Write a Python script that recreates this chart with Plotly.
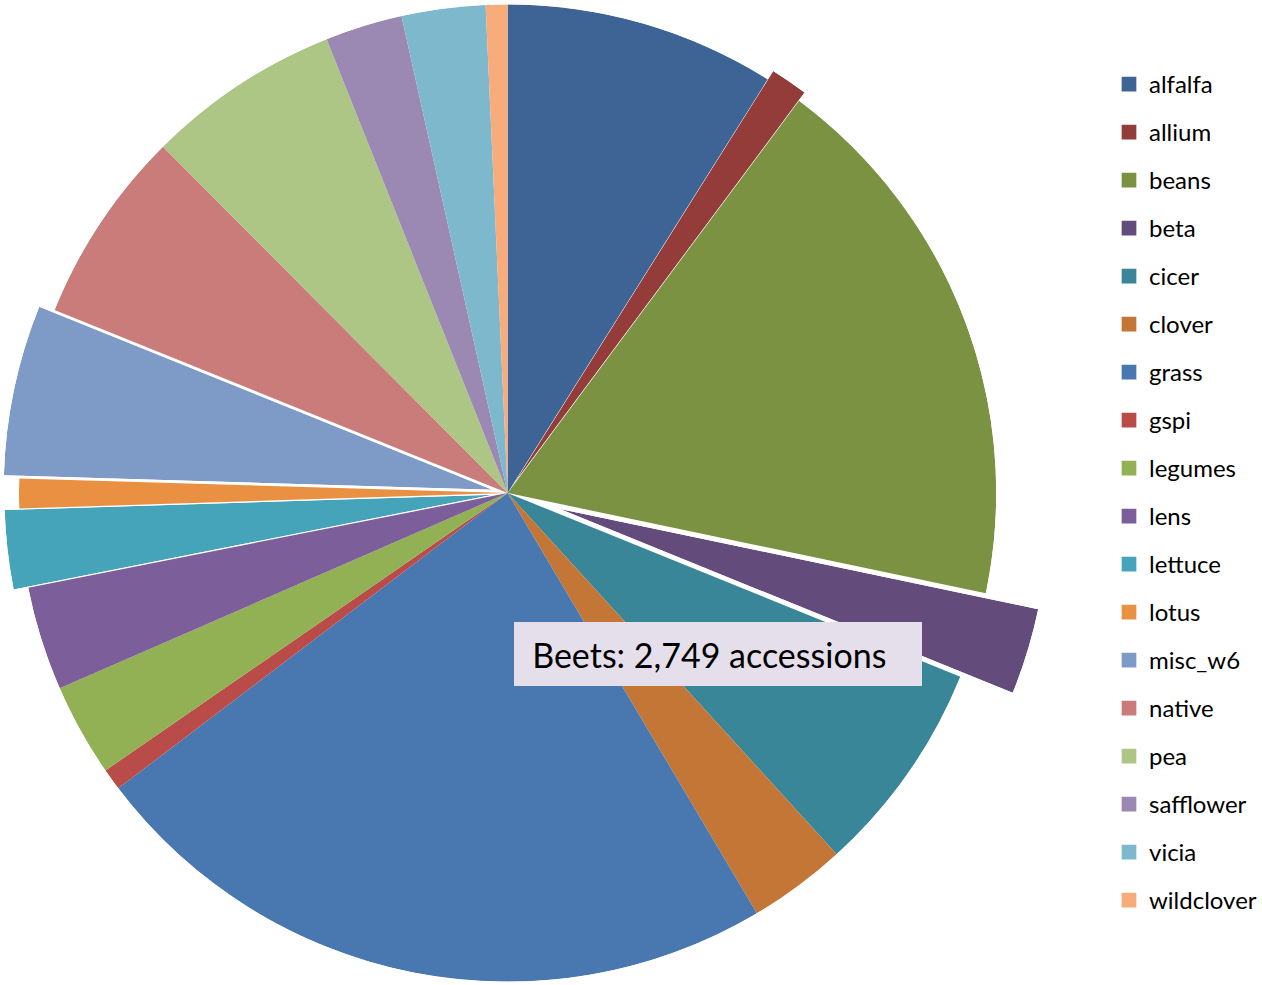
import math
import plotly.graph_objects as go

# ---------------- data ----------------
labels = ["alfalfa", "allium", "beans", "beta", "cicer", "clover", "grass", "gspi",
          "legumes", "lens", "lettuce", "lotus", "misc_w6", "native", "pea",
          "safflower", "vicia", "wildclover"]
values = [8608, 1194, 17455, 2749, 6844, 3121, 22350, 688,
          2958, 3314, 2508, 937, 5434, 6194, 6189,
          2463, 2666, 691]
colors = ["#3D6494", "#943C3A", "#7A9242", "#634C7C", "#388698", "#C47637",
          "#4978B0", "#B94B48", "#92B054", "#7B5E9A", "#46A4BA", "#EA9042",
          "#7E9BC7", "#C97C7A", "#ADC585", "#9B89B4", "#7DB8CD", "#F8AB7B"]
pulls = [0, 0.02, 0, 0.112, 0, 0, 0, 0,
         0, 0, 0.03, 0, 0.032, 0, 0,
         0, 0, 0]
tooltip_text = "Beets: 2,749 accessions&nbsp;&nbsp;"

# ---------------- layout constants ----------------
W, H = 1262, 985
CX, CY, R = 508, 493, 489


def sector_bbox(s0, s1):
    """Same bbox computation plotly uses for a polar sector (unit circle)."""
    arc = s1 - s0
    a0 = s0 % 360
    a1 = a0 + arc
    ax0, ay0 = math.cos(math.radians(a0)), math.sin(math.radians(a0))
    ax1, ay1 = math.cos(math.radians(a1)), math.sin(math.radians(a1))
    if (a0 <= 90 and a1 >= 90) or (a0 > 90 and a1 >= 450):
        y1 = 1
    elif ay0 <= 0 and ay1 <= 0:
        y1 = 0
    else:
        y1 = max(ay0, ay1)
    if (a0 <= 180 and a1 >= 180) or (a0 > 180 and a1 >= 540):
        x0 = -1
    elif ax0 >= 0 and ax1 >= 0:
        x0 = 0
    else:
        x0 = min(ax0, ax1)
    if (a0 <= 270 and a1 >= 270) or (a0 > 270 and a1 >= 630):
        y0 = -1
    elif ay0 >= 0 and ay1 >= 0:
        y0 = 0
    else:
        y0 = min(ay0, ay1)
    if a1 >= 360:
        x1 = 1
    elif ax0 <= 0 and ax1 <= 0:
        x1 = 0
    else:
        x1 = max(ax0, ax1)
    return x0, y0, x1, y1


def polar_layout(domain, sector=None):
    d = dict(
        domain=domain,
        bgcolor="rgba(0,0,0,0)",
        hole=0,
        angularaxis=dict(visible=False, rotation=90, direction="clockwise",
                         showgrid=False, showline=False, ticks=""),
        radialaxis=dict(visible=False, range=[0, 1], showgrid=False,
                        showline=False, ticks=""),
    )
    if sector is not None:
        d["sector"] = sector
    return d


total = float(sum(values))
fig = go.Figure()
layout_polars = {}
layout_polars["polar"] = polar_layout(
    dict(x=[(CX - R) / W, (CX + R) / W], y=[1 - (CY + R) / H, 1 - (CY - R) / H]))

start = 0.0
n_extra = 1
for lab, val, col, pl in zip(labels, values, colors, pulls):
    ang = val / total * 360.0
    mid = start + ang / 2.0
    subplot = "polar"
    if pl > 0:
        n_extra += 1
        subplot = "polar%d" % n_extra
        d = pl * R
        pcx = CX + d * math.sin(math.radians(mid))
        pcy = CY - d * math.cos(math.radians(mid))
        s0, s1 = 90 - (start + ang), 90 - start
        bx0, by0, bx1, by1 = sector_bbox(s0, s1)
        dom = dict(x=[(pcx + R * bx0) / W, (pcx + R * bx1) / W],
                   y=[1 - (pcy - R * by0) / H, 1 - (pcy - R * by1) / H])
        layout_polars[subplot] = polar_layout(dom, [s0, s1])
    # the slice itself
    fig.add_trace(go.Barpolar(
        r=[1], theta=[mid], width=[ang], base=0,
        name=lab, legendgroup=lab, showlegend=False,
        marker=dict(color=col, line=dict(width=0)),
        subplot=subplot,
        hovertemplate=lab + ": %{customdata:,} accessions<extra></extra>",
        customdata=[val],
    ))
    # legend entry (empty bar, slightly larger legend square)
    fig.add_trace(go.Barpolar(
        r=[0], theta=[mid], width=[ang], base=0,
        name=lab, legendgroup=lab, showlegend=True,
        marker=dict(color=col, line=dict(width=2.7, color=col)),
        subplot="polar", hoverinfo="skip",
    ))
    start += ang

LEG_FS = 24
fig.update_layout(
    width=W, height=H,
    margin=dict(l=0, r=0, t=0, b=0),
    paper_bgcolor="white",
    plot_bgcolor="white",
    font=dict(family="Lato, 'Open Sans', sans-serif", color="#000000"),
    showlegend=True,
    legend=dict(
        x=1110 / W, xanchor="left",
        y=1 - 62 / H, yanchor="top",
        font=dict(size=LEG_FS, family="Lato", color="#000000"),
        tracegroupgap=48 - (LEG_FS * 1.3 + 3),
        traceorder="grouped",
        bgcolor="rgba(0,0,0,0)",
        borderwidth=0,
    ),
    annotations=[dict(
        text=tooltip_text,
        xref="paper", yref="paper",
        x=514 / W, xanchor="left",
        y=1 - 622.3 / H, yanchor="top",
        width=408, height=64,
        align="center", valign="middle",
        showarrow=False,
        bgcolor="#E5DFEC",
        borderwidth=0, borderpad=0,
        font=dict(family="Lato", size=34, color="#000000"),
    )],
    **layout_polars,
)

fig.write_html("out.html",
               config={"displayModeBar": False},
               post_script="document.body.style.margin='0px';")
